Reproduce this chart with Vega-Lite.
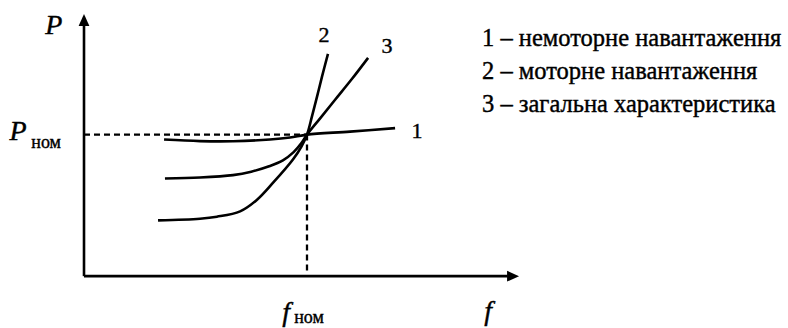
{
  "$schema": "https://vega.github.io/schema/vega-lite/v6.json",
  "width": 788,
  "height": 328,
  "padding": 0,
  "autosize": {"type": "fit", "contains": "padding"},
  "background": "white",
  "config": {"view": {"stroke": null}},
  "datasets": {
    "curves": [
      {"curve": "1", "f": 0.359, "P": 0.965},
      {"curve": "1", "f": 0.520, "P": 0.954},
      {"curve": "1", "f": 0.668, "P": 0.953},
      {"curve": "1", "f": 0.834, "P": 0.965},
      {"curve": "1", "f": 0.924, "P": 0.979},
      {"curve": "1", "f": 1.000, "P": 1.000},
      {"curve": "1", "f": 1.193, "P": 1.021},
      {"curve": "1", "f": 1.395, "P": 1.046},
      {"curve": "3", "f": 0.363, "P": 0.690},
      {"curve": "3", "f": 0.520, "P": 0.697},
      {"curve": "3", "f": 0.668, "P": 0.714},
      {"curve": "3", "f": 0.750, "P": 0.738},
      {"curve": "3", "f": 0.830, "P": 0.776},
      {"curve": "3", "f": 0.892, "P": 0.818},
      {"curve": "3", "f": 0.940, "P": 0.876},
      {"curve": "3", "f": 0.975, "P": 0.940},
      {"curve": "3", "f": 1.000, "P": 1.000},
      {"curve": "3", "f": 1.058, "P": 1.113},
      {"curve": "3", "f": 1.126, "P": 1.246},
      {"curve": "3", "f": 1.202, "P": 1.394},
      {"curve": "3", "f": 1.274, "P": 1.542},
      {"curve": "2", "f": 0.332, "P": 0.394},
      {"curve": "2", "f": 0.520, "P": 0.406},
      {"curve": "2", "f": 0.596, "P": 0.420},
      {"curve": "2", "f": 0.700, "P": 0.458},
      {"curve": "2", "f": 0.776, "P": 0.540},
      {"curve": "2", "f": 0.848, "P": 0.660},
      {"curve": "2", "f": 0.937, "P": 0.824},
      {"curve": "2", "f": 0.975, "P": 0.915},
      {"curve": "2", "f": 1.000, "P": 1.000},
      {"curve": "2", "f": 1.022, "P": 1.127},
      {"curve": "2", "f": 1.045, "P": 1.268},
      {"curve": "2", "f": 1.067, "P": 1.408},
      {"curve": "2", "f": 1.094, "P": 1.570}
    ],
    "axes": [
      {"name": "P", "f": 0, "P": 0, "f2": 0, "P2": 1.78},
      {"name": "f", "f": 0, "P": 0, "f2": 1.90, "P2": 0}
    ],
    "guides": [
      {"name": "Pnom", "f": 0, "P": 1, "f2": 1, "P2": 1},
      {"name": "fnom", "f": 1, "P": 1, "f2": 1, "P2": 0.035}
    ],
    "arrows": [
      {"dir": "up", "f": 0, "P": 1.852},
      {"dir": "right", "f": 1.951, "P": 0}
    ],
    "curveLabels": [
      {"label": "2", "f": 1.076, "P": 1.655},
      {"label": "3", "f": 1.359, "P": 1.577},
      {"label": "1", "f": 1.493, "P": 0.979}
    ],
    "symbols": [
      {"label": "P", "f": -0.135, "P": 1.768},
      {"label": "P", "f": -0.296, "P": 1.021},
      {"label": "f", "f": 0.906, "P": -0.261},
      {"label": "f", "f": 1.812, "P": -0.254}
    ],
    "subscripts": [
      {"label": "ном", "f": -0.170, "P": 0.940},
      {"label": "ном", "f": 1.009, "P": -0.296}
    ],
    "legend": [
      {"label": "1 – немоторне навантаження", "f": 1.785, "P": 1.623},
      {"label": "2 – моторне навантаження", "f": 1.785, "P": 1.392},
      {"label": "3 – загальна характеристика", "f": 1.785, "P": 1.161}
    ]
  },
  "encoding": {
    "x": {"field": "f", "type": "quantitative", "axis": null,
          "scale": {"domain": [-0.3767, 3.157], "nice": false, "zero": false}},
    "y": {"field": "P", "type": "quantitative", "axis": null,
          "scale": {"domain": [-0.359, 1.9507], "nice": false, "zero": false}}
  },
  "layer": [
    {
      "data": {"name": "axes"},
      "mark": {"type": "rule", "color": "black", "strokeWidth": 2.6},
      "encoding": {"x2": {"field": "f2"}, "y2": {"field": "P2"}}
    },
    {
      "data": {"name": "arrows"},
      "transform": [{"filter": "datum.dir === 'up'"}],
      "mark": {"type": "point", "shape": "M0,0L-0.9,2L0.9,2Z", "size": 144,
               "filled": true, "color": "black", "opacity": 1}
    },
    {
      "data": {"name": "arrows"},
      "transform": [{"filter": "datum.dir === 'right'"}],
      "mark": {"type": "point", "shape": "M0,0L-2,-0.9L-2,0.9Z", "size": 144,
               "filled": true, "color": "black", "opacity": 1}
    },
    {
      "data": {"name": "guides"},
      "mark": {"type": "rule", "color": "black", "strokeWidth": 2.3, "strokeDash": [6, 4]},
      "encoding": {"x2": {"field": "f2"}, "y2": {"field": "P2"}}
    },
    {
      "data": {"name": "curves"},
      "mark": {"type": "line", "color": "black", "strokeWidth": 2.6, "interpolate": "catmull-rom"},
      "encoding": {
        "detail": {"field": "curve", "type": "nominal"},
        "order": {"field": "f", "type": "quantitative"}
      }
    },
    {
      "data": {"name": "curveLabels"},
      "mark": {"type": "text", "font": "Liberation Serif", "fontSize": 22, "fill": "black",
               "stroke": "black", "strokeWidth": 0.4, "align": "center", "baseline": "alphabetic"},
      "encoding": {"text": {"field": "label"}}
    },
    {
      "data": {"name": "symbols"},
      "mark": {"type": "text", "font": "Liberation Serif", "fontSize": 28, "fontStyle": "italic",
               "fill": "black", "stroke": "black", "strokeWidth": 0.4,
               "align": "center", "baseline": "middle"},
      "encoding": {"text": {"field": "label"}}
    },
    {
      "data": {"name": "subscripts"},
      "mark": {"type": "text", "font": "Liberation Serif", "fontSize": 18, "fill": "black",
               "stroke": "black", "strokeWidth": 0.4, "align": "center", "baseline": "middle"},
      "encoding": {"text": {"field": "label"}}
    },
    {
      "data": {"name": "legend"},
      "mark": {"type": "text", "font": "Liberation Serif", "fontSize": 24.5, "fill": "black",
               "stroke": "black", "strokeWidth": 0.4, "align": "left", "baseline": "alphabetic"},
      "encoding": {"text": {"field": "label"}}
    }
  ]
}
